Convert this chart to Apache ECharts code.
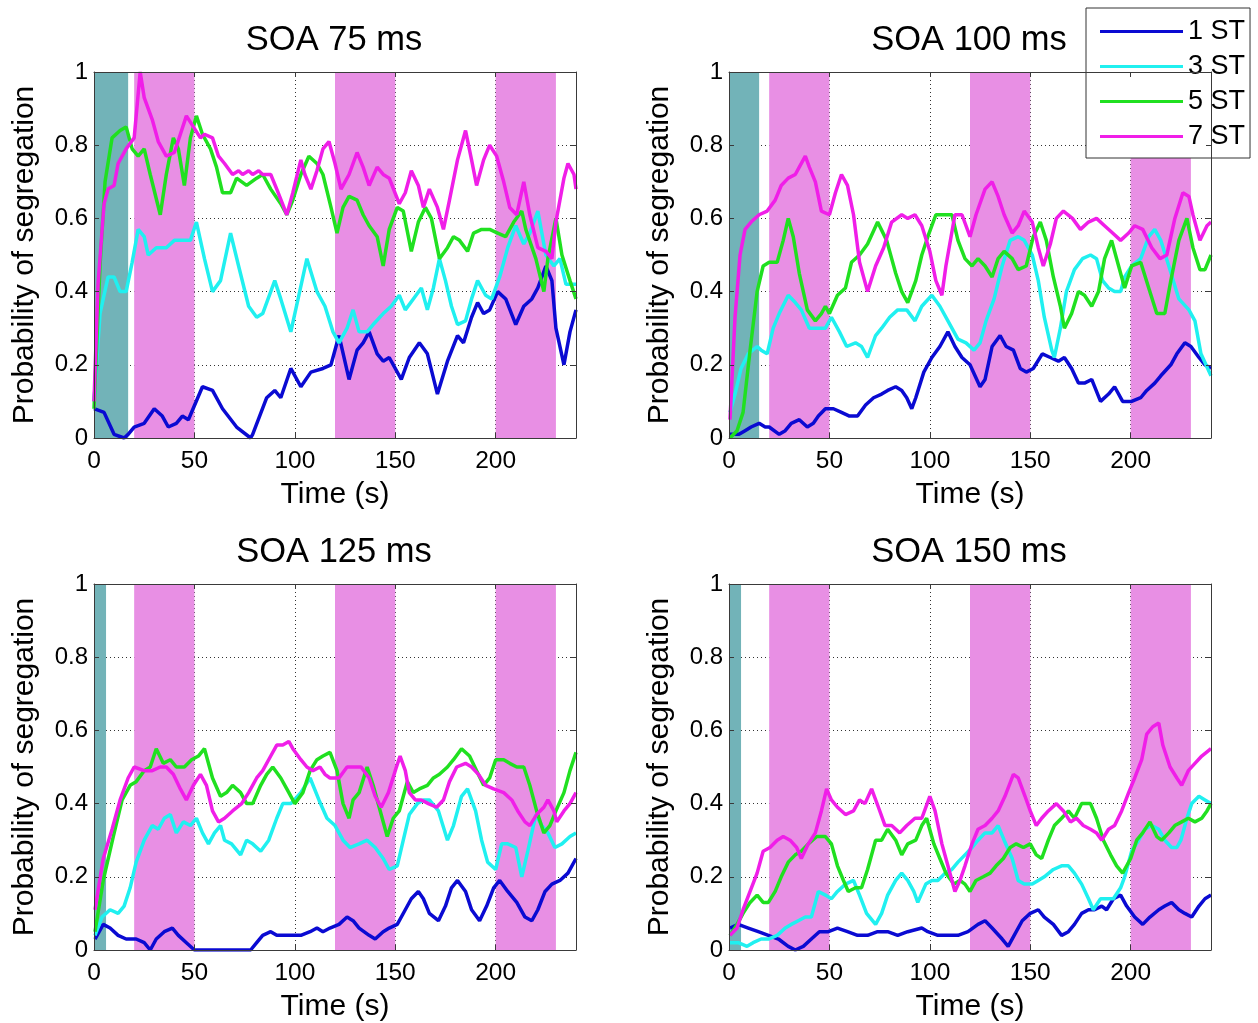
<!DOCTYPE html>
<html><head><meta charset="utf-8">
<script src="https://cdn.jsdelivr.net/npm/echarts@6/dist/echarts.min.js"></script>
<style>html,body{margin:0;padding:0;background:#fff}#c{width:1258px;height:1023px}</style>
</head><body><div id="c"></div>
<script>
// ---------- data ----------
const seriesNames = ['1 ST', '3 ST', '5 ST', '7 ST'];
const panelTitles = ['SOA 75 ms', 'SOA 100 ms', 'SOA 125 ms', 'SOA 150 ms'];
const xMin = 0, xMax = 240, xStep = 50;
const yMin = 0, yMax = 1, yStep = 0.2;
const baselineBands = [[0, 17], [0, 15], [0, 6], [0, 6]];
const testBands = [[20, 50], [120, 150], [200, 230]];

const soa75_st1 = [[0,0.08],[5,0.07],[10,0.01],[15,0],[17,0.01],[20,0.03],[25,0.04],[30,0.08],[34,0.06],[37,0.03],[41,0.04],[44,0.06],[47,0.05],[54,0.14],[59,0.13],[64,0.08],[71,0.03],[78,0],[79,0.01],[86,0.11],[90,0.13],[93,0.11],[98,0.19],[103,0.14],[108,0.18],[114,0.19],[118,0.2],[122,0.28],[127,0.16],[131,0.24],[134,0.26],[137,0.29],[141,0.23],[144,0.21],[147,0.22],[153,0.16],[157,0.22],[162,0.26],[166,0.23],[171,0.12],[176,0.21],[181,0.28],[184,0.26],[188,0.33],[191,0.37],[194,0.34],[197,0.35],[201,0.4],[205,0.38],[210,0.31],[214,0.36],[218,0.38],[221,0.41],[225,0.47],[228,0.43],[230,0.3],[234,0.2],[237,0.29],[240,0.35]];
const soa75_st3 = [[0,0.1],[3,0.34],[7,0.44],[10,0.44],[13,0.4],[16,0.4],[19,0.48],[22,0.57],[25,0.55],[27,0.5],[31,0.52],[36,0.52],[40,0.54],[44,0.54],[48,0.54],[51,0.59],[55,0.49],[59,0.4],[63,0.43],[68,0.56],[72,0.47],[77,0.36],[81,0.33],[84,0.34],[90,0.43],[93,0.38],[98,0.29],[102,0.39],[106,0.49],[111,0.4],[115,0.36],[119,0.29],[122,0.26],[126,0.3],[129,0.35],[132,0.29],[136,0.29],[139,0.31],[144,0.34],[148,0.36],[152,0.39],[155,0.35],[159,0.38],[163,0.41],[166,0.35],[169,0.41],[172,0.49],[175,0.43],[178,0.36],[181,0.31],[185,0.32],[188,0.38],[191,0.43],[195,0.39],[198,0.38],[202,0.44],[206,0.52],[210,0.58],[214,0.53],[217,0.56],[221,0.62],[225,0.5],[229,0.47],[232,0.49],[235,0.42],[240,0.42]];
const soa75_st5 = [[0,0.08],[3,0.47],[5.5,0.7],[9,0.82],[13,0.84],[16,0.85],[19,0.79],[22,0.77],[25,0.79],[28,0.72],[33,0.61],[36,0.72],[39.5,0.82],[42,0.79],[45,0.69],[48,0.82],[51,0.88],[54,0.83],[58,0.79],[61,0.74],[64,0.67],[68,0.67],[71,0.71],[76,0.69],[81,0.71],[84,0.72],[88,0.68],[93,0.64],[96,0.61],[99,0.65],[103,0.72],[107,0.77],[111,0.75],[114,0.72],[118,0.63],[121,0.56],[124,0.63],[127,0.66],[131,0.65],[134,0.61],[137,0.58],[141,0.55],[144,0.47],[147,0.57],[151,0.63],[154,0.62],[158,0.51],[161.5,0.59],[165,0.63],[168,0.6],[172,0.49],[176,0.52],[179,0.55],[182,0.54],[186,0.51],[189,0.56],[193,0.57],[197,0.57],[201,0.56],[205,0.55],[209,0.59],[213,0.62],[215,0.57],[220,0.49],[224,0.4],[226,0.49],[230,0.6],[233,0.5],[237,0.43],[240,0.38]];
const soa75_st7 = [[0,0.1],[2,0.42],[5,0.64],[7,0.68],[10,0.69],[12,0.75],[16,0.79],[20,0.82],[23,1.0],[25,0.93],[29,0.87],[32,0.81],[36,0.77],[40,0.78],[43,0.83],[46,0.88],[49.5,0.85],[53,0.82],[55,0.83],[59,0.82],[62,0.77],[65,0.75],[69,0.72],[72,0.73],[74,0.72],[77,0.73],[79,0.72],[82,0.73],[84,0.72],[88,0.72],[91,0.68],[96,0.61],[99,0.67],[103,0.76],[105,0.72],[108,0.68],[111,0.73],[114,0.79],[117,0.81],[120,0.75],[123,0.68],[127,0.72],[131,0.78],[134,0.74],[137,0.69],[141,0.74],[144,0.72],[147,0.71],[152,0.64],[155,0.67],[158,0.73],[161.5,0.69],[164,0.63],[167,0.68],[171,0.63],[174,0.57],[177,0.65],[181,0.76],[185,0.84],[188,0.76],[190.5,0.69],[194,0.76],[197,0.8],[200.5,0.77],[204,0.7],[207,0.63],[210.5,0.61],[214,0.7],[217,0.61],[221,0.52],[225,0.51],[228,0.49],[230,0.59],[234,0.71],[236,0.75],[239,0.72],[240,0.68]];

const soa100_st1 = [[0.5,0.01],[5,0.01],[8,0.02],[11,0.03],[15,0.04],[18,0.03],[20,0.03],[25,0.01],[28,0.02],[31,0.04],[35,0.05],[39,0.03],[42,0.04],[44.5,0.06],[48,0.08],[52,0.08],[56,0.07],[60,0.06],[64,0.06],[68,0.09],[72,0.11],[76,0.12],[79,0.13],[83,0.14],[86,0.13],[88.5,0.11],[91,0.08],[93,0.11],[97,0.18],[101,0.22],[105,0.25],[109,0.29],[112.5,0.25],[116,0.22],[120,0.2],[122.5,0.17],[125,0.14],[127.5,0.16],[131,0.25],[135,0.28],[138,0.25],[141.6,0.24],[145,0.19],[148,0.18],[151.5,0.19],[156,0.23],[160,0.22],[164,0.21],[167,0.22],[170.6,0.19],[174,0.15],[177,0.15],[180.6,0.16],[185,0.1],[189,0.12],[192,0.14],[196,0.1],[200.5,0.1],[205,0.11],[208,0.13],[212,0.15],[215,0.17],[220,0.2],[223,0.23],[227,0.26],[230,0.25],[234,0.22],[237,0.2],[240,0.19]];
const soa100_st3 = [[0.5,0.07],[3,0.12],[6,0.19],[9.6,0.23],[14,0.25],[16,0.24],[19,0.23],[22,0.3],[25,0.34],[29.5,0.39],[33,0.37],[36,0.35],[40,0.3],[44.5,0.3],[48,0.3],[51,0.33],[55,0.29],[58.6,0.25],[63,0.26],[66,0.25],[69,0.22],[73,0.28],[76,0.3],[80,0.33],[84,0.35],[88.5,0.35],[92.6,0.32],[96,0.36],[101,0.39],[105,0.36],[109,0.32],[114,0.27],[118,0.26],[122,0.24],[125,0.26],[128,0.32],[132,0.38],[136,0.47],[140,0.54],[144,0.55],[147,0.54],[151,0.5],[154,0.43],[157,0.33],[160.7,0.24],[162,0.22],[165,0.3],[168,0.4],[172,0.46],[176,0.49],[180,0.5],[183,0.49],[186,0.43],[189,0.41],[192,0.4],[195,0.4],[197,0.44],[200.5,0.47],[205,0.49],[209,0.55],[212,0.57],[215,0.54],[219,0.47],[224,0.38],[229,0.35],[232,0.32],[235,0.23],[240,0.17]];
const soa100_st5 = [[0.5,0.0],[4,0.02],[7,0.07],[10.5,0.24],[14,0.4],[17,0.47],[20,0.48],[24,0.48],[27,0.54],[29.5,0.6],[32,0.55],[35,0.45],[39,0.35],[43,0.32],[46,0.34],[48,0.36],[50,0.34],[54,0.39],[58,0.41],[61,0.48],[65,0.5],[69,0.53],[74,0.59],[78.5,0.54],[83,0.45],[86,0.4],[89,0.37],[93,0.43],[96,0.5],[99,0.55],[103,0.61],[107,0.61],[111,0.61],[114,0.54],[117.5,0.49],[121,0.47],[124,0.49],[127.5,0.47],[131,0.44],[134,0.49],[137,0.51],[141,0.49],[144,0.46],[148,0.47],[151.5,0.55],[155,0.59],[158,0.54],[161.5,0.44],[165,0.36],[167,0.3],[170.6,0.34],[174,0.4],[177,0.39],[180.6,0.36],[184,0.4],[187,0.49],[190.5,0.54],[194,0.47],[197,0.41],[200.5,0.47],[205,0.48],[209,0.41],[213,0.34],[217,0.34],[220,0.43],[224,0.54],[228,0.6],[231,0.52],[234.5,0.46],[237,0.46],[240,0.5]];
const soa100_st7 = [[0.5,0.05],[3,0.33],[5.5,0.5],[8,0.57],[11,0.59],[15,0.61],[19,0.62],[23,0.65],[26,0.69],[29.5,0.71],[33,0.72],[35,0.74],[38,0.77],[40,0.74],[43,0.7],[46,0.62],[50,0.61],[53,0.67],[56,0.72],[59,0.69],[62,0.61],[65,0.48],[69,0.4],[73,0.47],[77,0.52],[81,0.59],[86,0.61],[89,0.6],[92.6,0.61],[96,0.58],[100,0.51],[103,0.43],[106,0.39],[108,0.47],[112.5,0.61],[116,0.61],[120,0.55],[123,0.61],[127.5,0.68],[131,0.7],[134,0.66],[137,0.61],[141,0.56],[144,0.58],[147,0.62],[151,0.59],[154,0.52],[156.5,0.47],[160,0.53],[163,0.6],[166.5,0.62],[171,0.6],[175,0.57],[179,0.59],[183,0.6],[187,0.58],[191,0.56],[195,0.54],[199,0.56],[202,0.58],[206,0.57],[210.5,0.52],[214.6,0.49],[218,0.5],[222,0.6],[226,0.67],[229,0.66],[231,0.61],[234.5,0.54],[238,0.58],[240,0.59]];

const soa125_st1 = [[0.5,0.03],[4.6,0.07],[8,0.06],[12,0.04],[16,0.03],[21,0.03],[25,0.02],[28,0.0],[31,0.03],[35,0.05],[39,0.06],[42,0.04],[46,0.02],[50,0],[78,0],[81,0.02],[84,0.04],[88,0.05],[91,0.04],[95,0.04],[99,0.04],[103,0.04],[107.6,0.05],[111,0.06],[114,0.05],[117.5,0.06],[122,0.07],[126,0.09],[129,0.08],[132,0.06],[137,0.04],[140,0.03],[144,0.05],[147,0.06],[151,0.07],[155,0.11],[158,0.14],[161.5,0.16],[164,0.14],[167,0.1],[171.5,0.08],[175,0.12],[178,0.17],[181,0.19],[185,0.16],[188,0.11],[192,0.08],[195.5,0.12],[199,0.17],[202,0.19],[206,0.16],[210.5,0.13],[214.6,0.09],[218,0.08],[221,0.11],[224.6,0.16],[228,0.18],[232,0.19],[236,0.21],[240,0.25]];
const soa125_st3 = [[0.5,0.04],[4,0.09],[8,0.11],[12,0.1],[15,0.12],[18,0.17],[21,0.24],[25,0.3],[29,0.34],[32,0.33],[35,0.36],[38,0.37],[41,0.32],[44.5,0.35],[48,0.34],[51,0.36],[54,0.32],[57,0.29],[60,0.32],[63,0.34],[65,0.3],[68.5,0.29],[73,0.26],[76,0.3],[79,0.29],[83,0.27],[87,0.3],[91,0.36],[94,0.4],[98,0.4],[103,0.43],[107.6,0.47],[112,0.41],[116,0.36],[120,0.34],[124,0.3],[127.5,0.28],[132,0.29],[136,0.3],[140,0.28],[144,0.25],[147,0.22],[151,0.23],[154,0.3],[157,0.37],[161,0.4],[164,0.41],[167,0.41],[171.5,0.38],[176,0.3],[179,0.34],[183,0.42],[186,0.44],[190,0.38],[193,0.3],[196,0.24],[200,0.22],[203,0.29],[206,0.29],[210,0.28],[213,0.2],[216,0.27],[220,0.37],[223,0.34],[226,0.32],[229.5,0.28],[233,0.29],[237,0.31],[240,0.32]];
const soa125_st5 = [[0.5,0.05],[4.6,0.19],[9.6,0.31],[14,0.41],[18,0.45],[21,0.46],[25,0.49],[28,0.5],[31,0.55],[34.5,0.51],[38,0.52],[41,0.5],[45,0.5],[48.6,0.52],[52,0.53],[55,0.55],[59,0.47],[63,0.42],[66,0.43],[69,0.45],[73,0.43],[76,0.4],[79,0.4],[83,0.45],[86,0.48],[89,0.5],[93,0.47],[96,0.44],[100,0.4],[104,0.43],[107.6,0.49],[111,0.52],[114,0.53],[117.5,0.54],[121,0.49],[124,0.4],[127,0.36],[129,0.41],[132,0.43],[136,0.5],[139,0.45],[142,0.39],[146,0.31],[149,0.36],[152,0.38],[156,0.46],[159,0.43],[162,0.44],[166,0.45],[169,0.47],[172,0.48],[176,0.5],[179,0.52],[183,0.55],[187,0.53],[190.5,0.49],[194,0.45],[197,0.47],[200,0.52],[204,0.52],[207,0.51],[210.5,0.5],[214,0.5],[217,0.45],[220.4,0.38],[224,0.32],[227,0.34],[230,0.38],[234,0.43],[237,0.49],[240,0.54]];
const soa125_st7 = [[0.5,0.11],[4.6,0.25],[9,0.33],[13,0.41],[17,0.47],[20,0.5],[25,0.49],[29,0.49],[33,0.5],[36,0.5],[39.5,0.48],[43,0.44],[46,0.41],[49.5,0.45],[53,0.48],[56,0.45],[59,0.38],[62,0.35],[65,0.36],[69,0.38],[73.5,0.4],[77,0.43],[81,0.47],[84,0.49],[88,0.53],[91,0.56],[94,0.56],[97,0.57],[99,0.55],[103,0.52],[106,0.5],[109,0.49],[112.5,0.5],[115,0.48],[117.5,0.47],[122,0.47],[126,0.5],[129,0.5],[133,0.5],[137,0.47],[140,0.42],[143,0.39],[146.6,0.43],[150,0.49],[152.4,0.53],[155,0.49],[157,0.43],[160,0.41],[163,0.41],[166.5,0.4],[170.6,0.39],[174,0.41],[177,0.46],[180.6,0.5],[185,0.51],[188,0.5],[191.4,0.48],[195,0.45],[199,0.44],[204,0.43],[208,0.41],[211,0.38],[214.6,0.35],[217,0.34],[220.4,0.37],[224,0.39],[226,0.41],[229,0.38],[230.4,0.35],[234,0.38],[237,0.4],[240,0.43]];

const soa150_st1 = [[0.5,0.06],[4.6,0.07],[9.6,0.06],[14.6,0.05],[19.6,0.04],[24.6,0.03],[29.5,0.01],[33,0.0],[37,0.01],[41,0.03],[45,0.05],[49.5,0.05],[54,0.06],[59,0.05],[64,0.04],[69,0.04],[74,0.05],[79,0.05],[84,0.04],[89,0.05],[96,0.06],[99,0.05],[104,0.04],[109,0.04],[114,0.04],[119,0.05],[124,0.07],[127.5,0.08],[131,0.06],[136,0.03],[139,0.01],[142,0.04],[146,0.08],[150,0.1],[154,0.11],[157,0.09],[161.5,0.07],[165.6,0.04],[169,0.05],[172,0.07],[175.6,0.1],[179,0.11],[182,0.11],[185.6,0.12],[188,0.11],[191.4,0.14],[195,0.15],[198,0.12],[202,0.09],[206,0.07],[209.6,0.09],[214,0.11],[217,0.12],[220.4,0.13],[224,0.11],[227,0.1],[230.4,0.09],[234,0.12],[237,0.14],[240,0.15]];
const soa150_st3 = [[0.5,0.02],[4.6,0.02],[9,0.01],[12,0.02],[16,0.03],[19.6,0.03],[24,0.04],[28,0.06],[31,0.07],[34.5,0.08],[38,0.09],[41,0.09],[44.5,0.16],[48,0.15],[51,0.14],[54,0.16],[58,0.18],[62,0.19],[65,0.15],[68.5,0.1],[73,0.07],[76,0.1],[79,0.15],[83,0.19],[86,0.21],[89,0.19],[92,0.16],[94,0.13],[98,0.18],[101,0.19],[104,0.19],[107.6,0.21],[111,0.22],[114,0.24],[117.5,0.26],[121,0.28],[124,0.3],[127.5,0.32],[131,0.32],[134,0.34],[137,0.3],[141,0.25],[144,0.19],[147,0.18],[151,0.18],[154,0.19],[157,0.2],[161.5,0.22],[165.6,0.23],[169,0.23],[172,0.21],[175.6,0.18],[179,0.14],[181.4,0.11],[185,0.14],[188,0.14],[191.4,0.14],[195,0.17],[197,0.2],[200.5,0.27],[204,0.3],[207,0.33],[210.5,0.34],[214,0.33],[217,0.3],[220.4,0.28],[223,0.28],[225,0.3],[228,0.36],[230.4,0.4],[234,0.42],[237,0.41],[240,0.4]];
const soa150_st5 = [[0.5,0.04],[4,0.07],[7,0.1],[10.5,0.13],[14,0.15],[17,0.13],[19.6,0.13],[23,0.16],[26,0.2],[29.5,0.24],[33,0.26],[36,0.27],[39.5,0.29],[43.7,0.31],[48,0.31],[51,0.29],[54,0.23],[57,0.19],[59.4,0.16],[63,0.17],[66,0.17],[69,0.22],[73,0.3],[76,0.3],[79,0.33],[83,0.3],[86,0.26],[89,0.29],[93,0.3],[96,0.34],[98.4,0.36],[102,0.29],[105,0.25],[108,0.21],[112,0.18],[115,0.19],[117.5,0.18],[120,0.16],[123,0.19],[126.6,0.2],[130,0.21],[133,0.23],[136.6,0.25],[140,0.28],[143,0.29],[146.6,0.28],[150,0.29],[153,0.26],[155.7,0.25],[159,0.3],[162,0.34],[165.6,0.36],[169,0.38],[172,0.36],[175.6,0.4],[180,0.4],[183,0.36],[186.4,0.3],[190,0.26],[193,0.23],[196,0.21],[200,0.25],[203,0.3],[206,0.32],[209.6,0.35],[213,0.31],[215.4,0.3],[219,0.32],[222,0.34],[225.4,0.35],[228.7,0.36],[232,0.35],[235.4,0.36],[238,0.38],[240,0.4]];
const soa150_st7 = [[0.5,0.04],[4,0.06],[7,0.11],[10.5,0.16],[14,0.21],[17,0.27],[20.4,0.28],[24,0.3],[27,0.31],[30.4,0.3],[33.7,0.28],[36,0.25],[39.5,0.29],[43,0.32],[46,0.38],[48.6,0.44],[51,0.41],[54,0.39],[58,0.37],[62,0.38],[65,0.41],[67.7,0.4],[71,0.44],[74.4,0.39],[77.7,0.34],[81,0.34],[85,0.32],[88.5,0.34],[92.6,0.36],[96,0.36],[100,0.42],[102.6,0.38],[106,0.29],[109,0.23],[112.5,0.16],[115,0.19],[117.5,0.23],[121,0.29],[124,0.33],[127.5,0.34],[131,0.36],[134,0.38],[137.4,0.42],[141.6,0.48],[144,0.47],[147.4,0.42],[150,0.38],[153,0.34],[155.7,0.36],[159,0.38],[163,0.4],[166.5,0.38],[170,0.35],[173,0.36],[176.4,0.34],[180,0.33],[183,0.32],[185.6,0.3],[189,0.33],[192,0.34],[195.5,0.38],[199,0.43],[202,0.47],[205.5,0.52],[208,0.59],[211,0.61],[214,0.62],[216,0.56],[219.6,0.5],[223,0.47],[225.4,0.45],[228.7,0.49],[232,0.51],[235.4,0.53],[240,0.55]];

const panelData = [
  [soa75_st1, soa75_st3, soa75_st5, soa75_st7],
  [soa100_st1, soa100_st3, soa100_st5, soa100_st7],
  [soa125_st1, soa125_st3, soa125_st5, soa125_st7],
  [soa150_st1, soa150_st3, soa150_st5, soa150_st7]
];

// ---------- style / layout ----------
const lineColors = ['#0a0ad2', '#20f0f0', '#20e020', '#f01ee8'];
const tealColor = '#72b3b8';
const pinkColor = '#e88fe4';
const FONT = '"Liberation Sans", Arial, Helvetica, sans-serif';
const gridPos = [
  { left: 94, top: 72 }, { left: 729, top: 72 },
  { left: 94, top: 584 }, { left: 729, top: 584 }
];
const GW = 482, GH = 366;
const edge = '#3a3a3a';

const grids = [], xAxes = [], yAxes = [], titles = [], series = [];
gridPos.forEach((g, i) => {
  grids.push({ left: g.left, top: g.top, width: GW, height: GH, show: true,
    backgroundColor: '#fff', borderWidth: 0, containLabel: false, outerBoundsMode: 'none' });
  titles.push({ text: panelTitles[i], left: g.left + GW / 2 - 1, top: g.top - 49, textAlign: 'center', padding: 0,
    textStyle: { fontFamily: FONT, fontSize: 34.5, fontWeight: 'normal', color: '#000' } });
  const xBase = { gridIndex: i, type: 'value', min: xMin, max: xMax, interval: xStep };
  const yBase = { gridIndex: i, type: 'value', min: yMin, max: yMax, interval: yStep };
  xAxes.push(Object.assign({}, xBase, { position: 'bottom', z: 10,
    axisLine: { show: true, onZero: false, lineStyle: { color: edge, width: 1 } },
    axisTick: { show: true, inside: true, length: 5, lineStyle: { color: edge } },
    axisLabel: { show: true, showMaxLabel: false, fontFamily: FONT, fontSize: 24.5, color: '#000', margin: 11 },
    splitLine: { show: false },
    name: 'Time (s)', nameLocation: 'middle', nameGap: 42,
    nameTextStyle: { fontFamily: FONT, fontSize: 30, color: '#000' } }));
  xAxes.push(Object.assign({}, xBase, { position: 'bottom', z: 0,
    axisLine: { show: false }, axisTick: { show: false }, axisLabel: { show: false },
    splitLine: { show: true, lineStyle: { color: '#333', width: 1, type: [1, 3] } } }));
  xAxes.push(Object.assign({}, xBase, { position: 'top', z: 10,
    axisLine: { show: true, onZero: false, lineStyle: { color: edge, width: 1 } },
    axisTick: { show: true, inside: true, length: 5, lineStyle: { color: edge } },
    axisLabel: { show: false }, splitLine: { show: false } }));
  yAxes.push(Object.assign({}, yBase, { position: 'left', z: 10,
    axisLine: { show: true, onZero: false, lineStyle: { color: edge, width: 1 } },
    axisTick: { show: true, inside: true, length: 5, lineStyle: { color: edge } },
    axisLabel: { show: true, fontFamily: FONT, fontSize: 24, color: '#000', margin: 6 },
    splitLine: { show: false },
    name: 'Probability of segregation', nameLocation: 'middle', nameGap: 54, nameRotate: 90,
    nameTextStyle: { fontFamily: FONT, fontSize: 30, color: '#000' } }));
  yAxes.push(Object.assign({}, yBase, { position: 'left', z: 0,
    axisLine: { show: false }, axisTick: { show: false }, axisLabel: { show: false },
    splitLine: { show: true, lineStyle: { color: '#333', width: 1, type: [1, 3] } } }));
  yAxes.push(Object.assign({}, yBase, { position: 'right', z: 10,
    axisLine: { show: true, onZero: false, lineStyle: { color: edge, width: 1 } },
    axisTick: { show: true, inside: true, length: 5, lineStyle: { color: edge } },
    axisLabel: { show: false }, splitLine: { show: false } }));

  const areas = [[{ xAxis: baselineBands[i][0], itemStyle: { color: tealColor } }, { xAxis: baselineBands[i][1] }]];
  testBands.forEach(b => areas.push([{ xAxis: b[0], itemStyle: { color: pinkColor } }, { xAxis: b[1] }]));
  series.push({ name: 'bands' + i, type: 'line', xAxisIndex: 3 * i, yAxisIndex: 3 * i, z: 1,
    data: [], silent: true,
    markArea: { silent: true, data: areas, itemStyle: { opacity: 1 } } });

  panelData[i].forEach((d, k) => {
    series.push({ name: seriesNames[k], type: 'line', xAxisIndex: 3 * i, yAxisIndex: 3 * i, z: 3,
      data: d, showSymbol: false, symbol: 'none', smooth: false,
      lineStyle: { color: lineColors[k], width: 3.5 }, itemStyle: { color: lineColors[k] } });
  });
});

const chart = echarts.init(document.getElementById('c'), null, { renderer: 'canvas' });
chart.setOption({
  animation: false,
  backgroundColor: '#fff',
  title: titles,
  grid: grids,
  xAxis: xAxes,
  yAxis: yAxes,
  legend: {
    data: seriesNames, orient: 'vertical', left: 1086, top: 8,
    padding: [10, 5, 8, 14], itemGap: 8, itemWidth: 83, itemHeight: 3, icon: 'rect',
    backgroundColor: '#fff', borderColor: '#333', borderWidth: 1, borderRadius: 0,
    textStyle: { fontFamily: FONT, fontSize: 27, lineHeight: 27, color: '#000' }, selectedMode: false
  },
  series: series
});
</script></body></html>
